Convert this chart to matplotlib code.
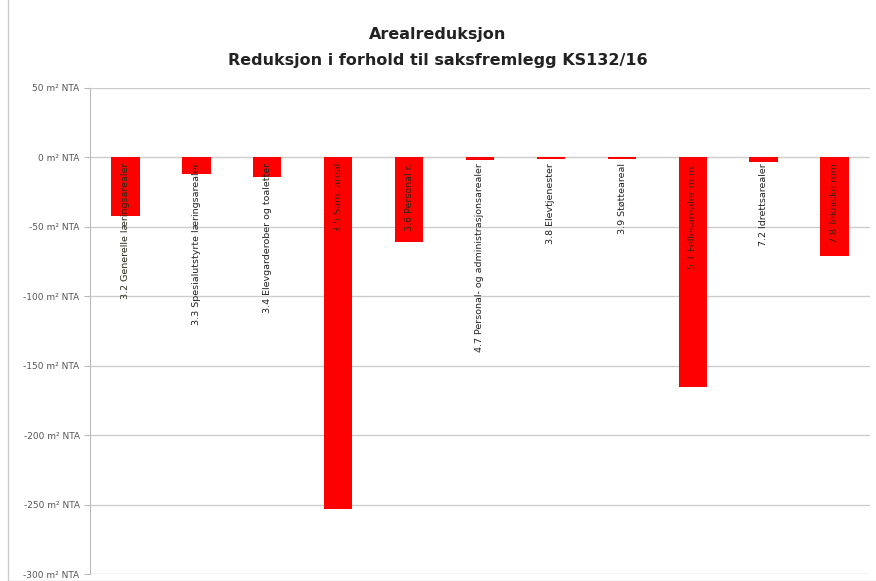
import matplotlib.pyplot as plt
from matplotlib.patches import Rectangle

# data
categories = ["3.2 Generelle læringsarealer", "3.3 Spesialutstyrte læringsarealer",
              "3.4 Elevgarderober og toaletter", "3.5 Sam. areal", "3.6 Personal r.",
              "4.7 Personal- og administrasjonsarealer", "3.8 Elevtjenester",
              "3.9 Støtteareal", "5.1 Fellesarealer m.m.", "7.2 Idrettsarealer",
              "7.8 Tekniske rom"]
values = [-42, -12, -14, -253, -61, -2, -0.8, -0.8, -165, -3.5, -71]
yticks = [50, 0, -50, -100, -150, -200, -250, -300]


def main() -> None:
    fig = plt.figure(figsize=(8.76, 5.81), dpi=100)
    ax = fig.add_axes([90/876, 1-574/581, 780/876, 486/581])
    x = list(range(len(values)))
    ax.bar(x, values, width=0.4, color="#ff0000", zorder=3)
    for i, lab in enumerate(categories):
        # labels inside bars are dark, outside are black
        col = "#2a2a1a" if values[i] < -30 else "#222222"
        ax.text(i, -4, lab, rotation=90, ha="center", va="top",
                fontsize=6.8, color=col, zorder=4)
    ax.set_xlim(-0.5, len(values)-0.5)
    ax.set_ylim(-300, 50)
    ax.set_yticks(yticks)
    ax.set_yticklabels(["%d m² NTA" % v for v in yticks], fontsize=6.5, color="#555555")
    ax.set_xticks([])
    ax.grid(True, axis="y", color="#cccccc", linewidth=1, zorder=0)
    for s in ["top", "right", "bottom"]:
        ax.spines[s].set_visible(False)
    ax.spines["left"].set_color("#bbbbbb")
    ax.tick_params(axis="y", length=4, color="#bbbbbb")
    fig.text(0.5, 1-35/581, "Arealreduksjon", ha="center", va="center",
             fontsize=11.5, fontweight="bold", color="#222222")
    fig.text(0.5, 1-60/581, "Reduksjon i forhold til saksfremlegg KS132/16", ha="center",
             va="center", fontsize=11.5, fontweight="bold", color="#222222")
    fig.patches.append(Rectangle((8/876, 0.0), 1.2, 1.2, transform=fig.transFigure,
                                 fill=False, edgecolor="#cccccc", linewidth=1))
    fig.savefig("out.png", dpi=100)


if __name__ == "__main__":
    main()
